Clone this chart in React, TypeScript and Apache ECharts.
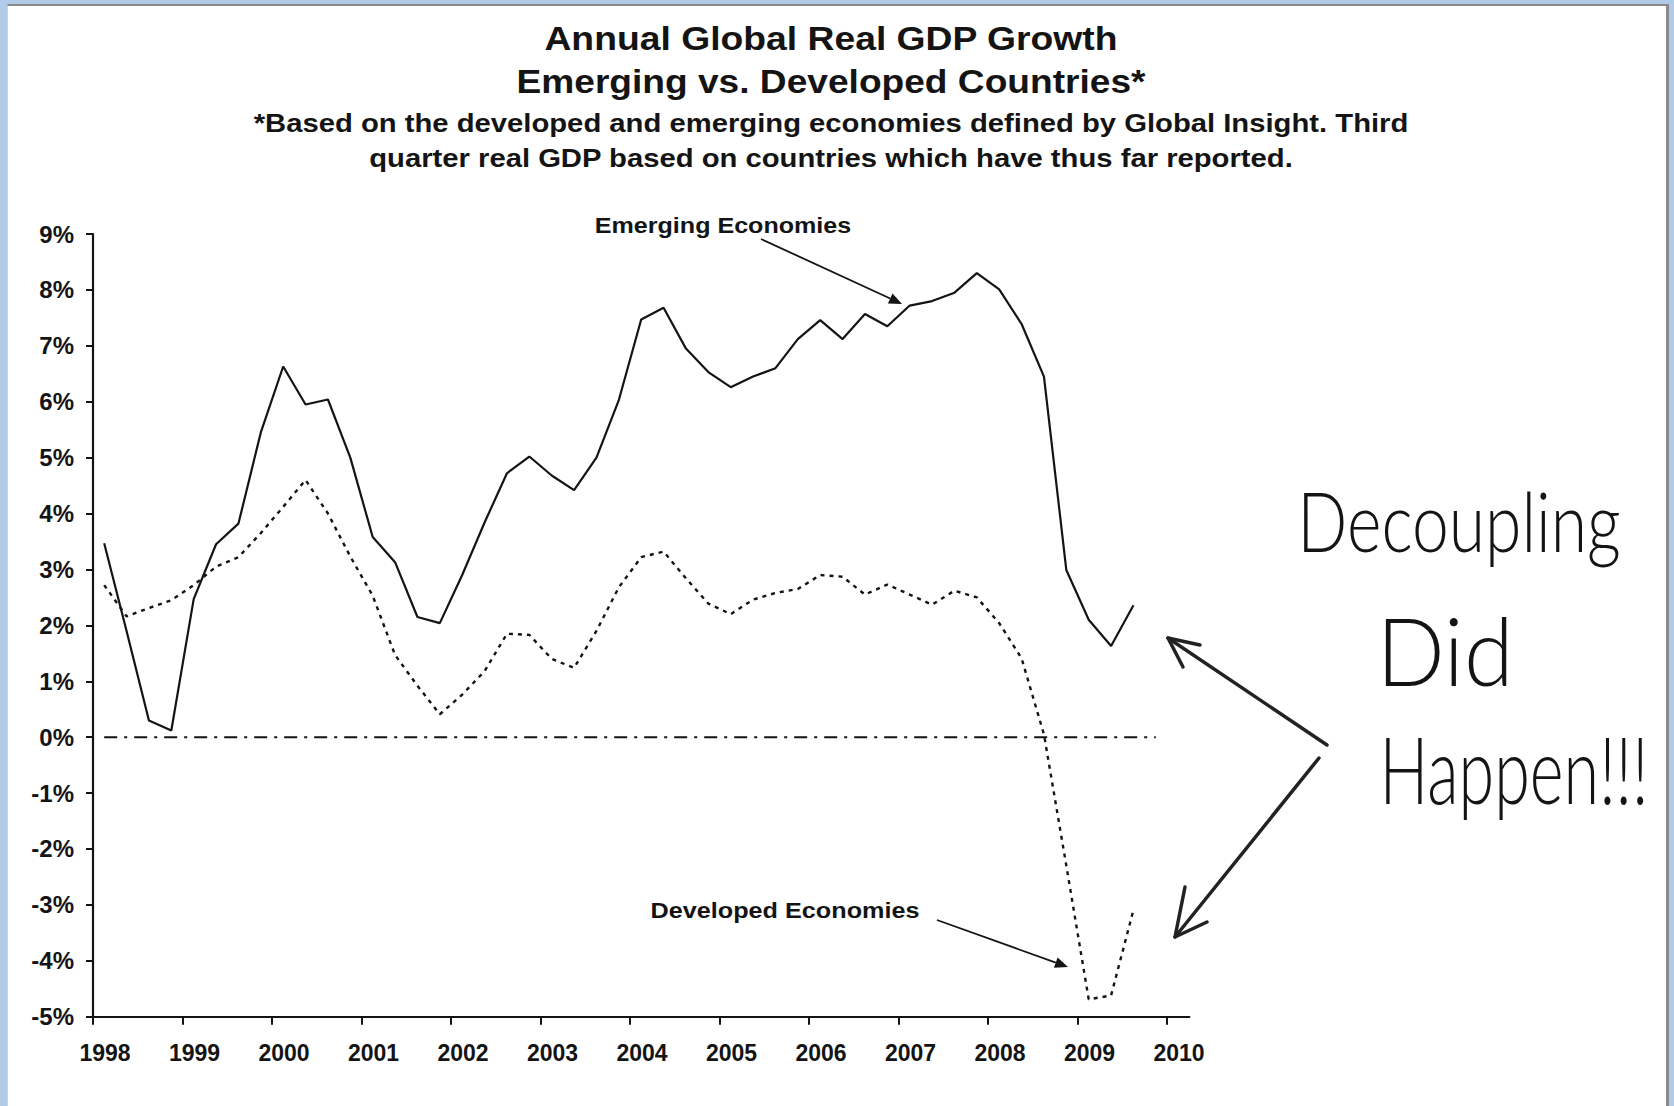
import React, { useEffect, useRef } from "react";
import * as echarts from "echarts";

// ---- data ----
const quarters = [
  "1998Q1", "1998Q2", "1998Q3", "1998Q4",
  "1999Q1", "1999Q2", "1999Q3", "1999Q4",
  "2000Q1", "2000Q2", "2000Q3", "2000Q4",
  "2001Q1", "2001Q2", "2001Q3", "2001Q4",
  "2002Q1", "2002Q2", "2002Q3", "2002Q4",
  "2003Q1", "2003Q2", "2003Q3", "2003Q4",
  "2004Q1", "2004Q2", "2004Q3", "2004Q4",
  "2005Q1", "2005Q2", "2005Q3", "2005Q4",
  "2006Q1", "2006Q2", "2006Q3", "2006Q4",
  "2007Q1", "2007Q2", "2007Q3", "2007Q4",
  "2008Q1", "2008Q2", "2008Q3", "2008Q4",
  "2009Q1", "2009Q2", "2009Q3",
];

const emerging = [
  3.47, 1.9, 0.3, 0.12,
  2.47, 3.45, 3.82, 5.45,
  6.63, 5.95, 6.04, 5.0,
  3.58, 3.13, 2.15, 2.04,
  2.9, 3.84, 4.72, 5.02,
  4.68, 4.42, 5.0, 6.03,
  7.47, 7.68, 6.95, 6.53,
  6.26, 6.45, 6.6, 7.12,
  7.46, 7.12, 7.57, 7.35,
  7.72, 7.8, 7.95, 8.3,
  8.01, 7.39, 6.45, 2.99,
  2.1, 1.63, 2.36,
];

const developed = [
  2.72, 2.16, 2.31, 2.45,
  2.72, 3.05, 3.22, 3.65,
  4.12, 4.6, 4.0, 3.23,
  2.53, 1.47, 0.92, 0.41,
  0.76, 1.18, 1.85, 1.83,
  1.4, 1.24, 1.9, 2.68,
  3.22, 3.32, 2.84, 2.39,
  2.2, 2.46, 2.58, 2.65,
  2.9, 2.87, 2.55, 2.73,
  2.55, 2.37, 2.62, 2.5,
  2.04, 1.41, 0.05, -2.3,
  -4.69, -4.62, -3.09,
];

const zeroLineSpan = ["1998Q1", "2009Q4"];
const yearTicks = [1998, 1999, 2000, 2001, 2002, 2003, 2004, 2005, 2006, 2007, 2008, 2009, 2010];

const titleLines = [
  "Annual Global Real GDP Growth",
  "Emerging vs. Developed Countries*",
];
const noteLines = [
  "*Based on the developed and emerging economies defined by Global Insight. Third",
  "quarter real GDP based on countries which have thus far reported.",
];
const handNotes = ["Decoupling", "Did", "Happen!!!"];

// quarter label -> position on the year axis (middle of the quarter)
const qPos = (q: string) => {
  const y = parseInt(q.slice(0, 4), 10);
  const n = parseInt(q.slice(5), 10);
  return y + (n - 0.5) / 4;
};

const FONT = '"Liberation Sans", Arial, Helvetica, sans-serif';
const HAND = 'Lato, "Open Sans", sans-serif';
const INK = "#141414";

function arrow(x1: number, y1: number, x2: number, y2: number, head = 13, half = 5.5) {
  const dx = x2 - x1;
  const dy = y2 - y1;
  const len = Math.sqrt(dx * dx + dy * dy);
  const ux = dx / len;
  const uy = dy / len;
  const bx = x2 - ux * head;
  const by = y2 - uy * head;
  const px = -uy * half;
  const py = ux * half;
  return [
    {
      type: "line",
      shape: { x1, y1, x2: bx, y2: by },
      style: { stroke: INK, lineWidth: 1.8 },
    },
    {
      type: "polygon",
      shape: { points: [[x2, y2], [bx + px, by + py], [bx - px, by - py]] },
      style: { fill: INK },
    },
  ];
}

export default function App() {
  const ref = useRef<HTMLDivElement>(null);

  useEffect(() => {
    document.body.style.margin = "0";
    if (!ref.current) return;
    const chart = echarts.init(ref.current, undefined, { renderer: "svg" });

    const textEl = (
      text: string,
      x: number,
      y: number,
      fontSize: number,
      scaleX: number,
      weight: any = "bold",
      family = FONT,
      scaleY = 1
    ) => ({
      type: "text",
      x,
      y,
      scaleX,
      scaleY,
      z: 10,
      style: {
        text,
        fontSize,
        fontWeight: weight,
        fontFamily: family,
        fill: INK,
        align: "center",
        verticalAlign: "middle",
      },
    });

    const hand = { stroke: "#222", lineWidth: 3.5, lineCap: "round", lineJoin: "round", fill: "none" };

    chart.setOption({
      animation: false,
      grid: { left: 93, top: 234, width: 1096.4, height: 782.7, containLabel: false },
      xAxis: {
        type: "value",
        min: 1998,
        max: 2010.25,
        interval: 1,
        axisLine: { show: true, onZero: false, lineStyle: { color: INK, width: 2.2 } },
        axisTick: { show: true, customValues: yearTicks, length: 8, lineStyle: { color: INK, width: 2 } },
        axisLabel: {
          customValues: yearTicks,
          formatter: (v: number) => String(v),
          fontSize: 23,
          fontWeight: "bold",
          fontFamily: FONT,
          color: INK,
          margin: 25,
          padding: [0, 0, 0, 24],
        },
        splitLine: { show: false },
      },
      yAxis: {
        type: "value",
        min: -5,
        max: 9,
        interval: 1,
        axisLine: { show: true, onZero: false, lineStyle: { color: INK, width: 2.2 } },
        axisTick: { show: true, length: 7, lineStyle: { color: INK, width: 2 } },
        axisLabel: {
          formatter: "{value}%",
          fontSize: 24,
          fontWeight: "bold",
          fontFamily: FONT,
          color: INK,
          margin: 19,
        },
        splitLine: { show: false },
      },
      series: [
        {
          name: "Emerging Economies",
          type: "line",
          symbol: "none",
          silent: true,
          data: quarters.map((q, i) => [qPos(q), emerging[i]]),
          lineStyle: { color: INK, width: 2.2, type: "solid" },
        },
        {
          name: "Developed Economies",
          type: "line",
          symbol: "none",
          silent: true,
          data: quarters.map((q, i) => [qPos(q), developed[i]]),
          lineStyle: { color: INK, width: 2.4, type: [4, 5] },
        },
        {
          name: "Zero",
          type: "line",
          symbol: "none",
          silent: true,
          data: zeroLineSpan.map((q) => [qPos(q), 0]),
          lineStyle: { color: INK, width: 2, type: [13, 7, 3, 7] },
        },
      ],
      graphic: [
        textEl(titleLines[0], 831, 38, 33, 1.13),
        textEl(titleLines[1], 831, 81, 33, 1.125),
        textEl(noteLines[0], 831, 123, 25, 1.17),
        textEl(noteLines[1], 831, 158, 25, 1.17),
        textEl("Emerging Economies", 723, 226, 22, 1.14),
        textEl("Developed Economies", 785, 911, 22, 1.146),
        ...arrow(761, 239, 902, 304),
        ...arrow(937, 920, 1068, 967),
        // handwritten note
        textEl(handNotes[0], 1459, 520, 66, 1.0, 300, HAND, 1.25),
        textEl(handNotes[1], 1445, 650, 90, 1.0, 300, HAND, 1.05),
        textEl(handNotes[2], 1514, 768, 66, 0.98, 300, HAND, 1.4),
        { type: "line", shape: { x1: 1327, y1: 745, x2: 1168, y2: 638 }, style: hand },
        { type: "polyline", shape: { points: [[1200, 645], [1168, 638], [1183, 667]] }, style: hand },
        { type: "line", shape: { x1: 1319, y1: 758, x2: 1175, y2: 937 }, style: hand },
        { type: "polyline", shape: { points: [[1185, 887], [1175, 937], [1207, 922]] }, style: hand },
      ],
    });

    return () => chart.dispose();
  }, []);

  return (
    <div style={{ position: "relative", width: 1674, height: 1106, background: "#b2cbe8", overflow: "hidden" }}>
      <div
        style={{
          position: "absolute",
          left: 7,
          top: 4,
          width: 1662,
          height: 1110,
          background: "#ffffff",
          borderTop: "2px solid #8a8a8a",
          borderRight: "3px solid #8a8a8a",
          borderLeft: "1px solid #c9d3de",
          boxSizing: "border-box",
        }}
      />
      <div ref={ref} style={{ position: "absolute", left: 0, top: 0, width: 1674, height: 1106 }} />
    </div>
  );
}
